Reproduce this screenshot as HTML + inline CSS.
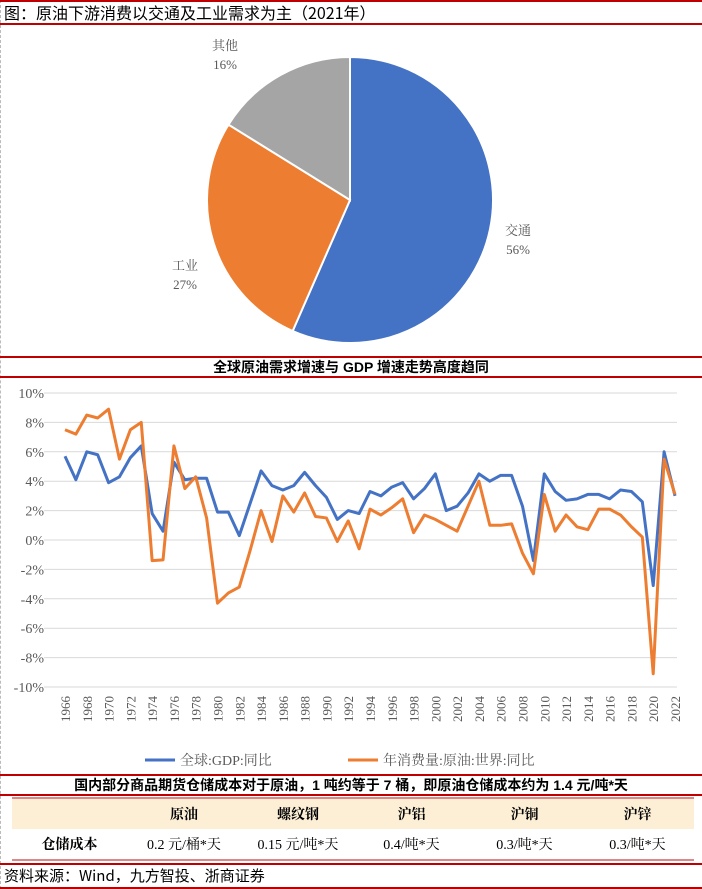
<!DOCTYPE html>
<html><head><meta charset="utf-8"><style>
body{margin:0;width:702px;height:889px;background:#fff;position:relative;overflow:hidden;font-family:"Liberation Serif","Noto Serif CJK SC",serif}
.abs{position:absolute}
.red{position:absolute;left:0;width:702px;height:2px;background:#c00000}
</style></head><body>
<div class="abs" style="left:0;top:0;height:889px;border-left:1px dashed #bbb"></div>
<div class="red" style="top:0"></div>
<div class="abs" style="left:4px;top:2px;font-size:16px;font-family:'Noto Sans CJK SC',sans-serif;line-height:21px">图：原油下游消费以交通及工业需求为主（2021年）</div>
<div class="red" style="top:23px"></div>

<svg class="abs" style="left:0;top:25px" width="702" height="330" id="pie"></svg>

<div class="red" style="top:356px"></div>
<div class="abs" style="left:0;width:702px;top:358px;text-align:center;font-size:14px;font-weight:bold;font-family:'Liberation Sans','Noto Sans CJK SC',sans-serif;line-height:18px">全球原油需求增速与 GDP 增速走势高度趋同</div>
<div class="red" style="top:376px"></div>

<svg class="abs" style="left:0;top:378px" width="702" height="392" id="line"></svg>

<div class="red" style="top:774px"></div>
<div class="abs" style="left:0;width:702px;top:776px;text-align:center;font-size:14px;font-weight:bold;font-family:'Liberation Sans','Noto Sans CJK SC',sans-serif;line-height:18px">国内部分商品期货仓储成本对于原油，1 吨约等于 7 桶，即原油仓储成本约为 1.4 元/吨*天</div>
<div class="red" style="top:794px"></div>
<table class="abs" style="left:12px;top:797px;width:682px;border-collapse:collapse;table-layout:fixed;font-size:14px;font-family:'Liberation Serif','Noto Serif CJK SC',serif">
<colgroup><col style="width:115px"><col style="width:114px"><col style="width:114px"><col style="width:113px"><col style="width:113px"><col style="width:113px"></colgroup>
<tr style="background:#fcefd6;height:31px;font-weight:bold;border-top:2px solid #d88"><td></td><td style="text-align:center">原油</td><td style="text-align:center">螺纹钢</td><td style="text-align:center">沪铝</td><td style="text-align:center">沪铜</td><td style="text-align:center">沪锌</td></tr>
<tr style="height:31px;border-bottom:2px solid #d88"><td style="text-align:center;font-weight:bold">仓储成本</td><td style="text-align:center">0.2 元/桶*天</td><td style="text-align:center">0.15 元/吨*天</td><td style="text-align:center">0.4/吨*天</td><td style="text-align:center">0.3/吨*天</td><td style="text-align:center">0.3/吨*天</td></tr>
</table>
<div class="red" style="top:863px"></div>
<div class="abs" style="left:4px;top:866px;font-size:15px;font-family:'Noto Sans CJK SC',sans-serif;line-height:20px">资料来源：Wind，九方智投、浙商证券</div>
<div class="red" style="top:887px"></div>

<script>
const pieLabels=["交通","工业","其他"];
const pieValues=[56,27,16];
const pieColors=["#4472c4","#ed7d31","#a5a5a5"];
const years=[];for(let y=1966;y<=2022;y++)years.push(y);
const gdp=[5.7,4.1,6.0,5.8,3.9,4.3,5.6,6.4,1.8,0.6,5.3,4.1,4.2,4.2,1.9,1.9,0.3,2.5,4.7,3.7,3.4,3.7,4.6,3.7,2.9,1.4,2.0,1.8,3.3,3.0,3.6,3.9,2.8,3.5,4.5,2.0,2.3,3.2,4.5,4.0,4.4,4.4,2.3,-1.4,4.5,3.3,2.7,2.8,3.1,3.1,2.8,3.4,3.3,2.6,-3.1,6.0,3.0];
const oil=[7.5,7.2,8.5,8.3,8.9,5.5,7.5,8.0,-1.4,-1.35,6.4,3.5,4.3,1.5,-4.3,-3.6,-3.2,-0.7,2.0,-0.1,3.0,1.9,3.2,1.6,1.5,-0.1,1.3,-0.6,2.1,1.7,2.2,2.8,0.5,1.7,1.4,1.0,0.6,2.3,4.0,1.0,1.0,1.1,-0.9,-2.3,3.1,0.6,1.7,0.9,0.7,2.1,2.1,1.7,0.9,0.2,-9.1,5.5,3.1];
const yTicks=[10,8,6,4,2,0,-2,-4,-6,-8,-10];
const NS="http://www.w3.org/2000/svg";
function mk(p,t,a){const e=document.createElementNS(NS,t);for(const k in a)e.setAttribute(k,a[k]);p.appendChild(e);return e;}
(function(){
const svg=document.getElementById('pie');const cx=350,cy=175,r=143;
const tot=pieValues.reduce((a,b)=>a+b,0);let a0=0;
const lp=[[518,210],[185,245],[225,25]];
pieValues.forEach((v,i)=>{
 const a1=a0+v/tot*Math.PI*2;
 const x0=cx+r*Math.sin(a0),y0=cy-r*Math.cos(a0),x1=cx+r*Math.sin(a1),y1=cy-r*Math.cos(a1);
 const p=mk(svg,'path',{d:`M${cx},${cy}L${x0},${y0}A${r},${r} 0 ${a1-a0>Math.PI?1:0} 1 ${x1},${y1}Z`,fill:pieColors[i],stroke:'#fff','stroke-width':2});
 
 
 const t=mk(svg,'text',{x:lp[i][0],y:lp[i][1],'text-anchor':'middle','font-size':13,fill:'#595959','font-family':'Liberation Serif,Noto Serif CJK SC,serif'});
 
 
 t.innerHTML=`<tspan x="${lp[i][0]}">${pieLabels[i]}</tspan><tspan x="${lp[i][0]}" dy="19">${v}%</tspan>`;
 a0=a1;});
})();
(function(){
const svg=document.getElementById('line');
const X0=65,X1=675,Y10=15,Yn10=309;
const xs=i=>X0+(X1-X0)*i/(years.length-1);
const ys=v=>Y10+(10-v)*(Yn10-Y10)/20;
yTicks.forEach(t=>{
 const l=mk(svg,'line',{x1:44,x2:677,y1:ys(t),y2:ys(t),stroke:'#d9d9d9','stroke-width':1});
 
 
 const tx=mk(svg,'text',{x:44,y:ys(t)+5,'text-anchor':'end','font-size':14,fill:'#595959'});
 
 
 tx.textContent=t+'%';});
years.forEach((y,i)=>{if(i%2)return;
 const x=xs(i),yy=318;
 const tx=mk(svg,'text',{x:x+5,y:yy,'text-anchor':'end','font-size':13,fill:'#595959',transform:`rotate(-90 ${x+5} ${yy})`});
 
 
 tx.textContent=y;});
[[gdp,'#4472c4','gdp-line'],[oil,'#ed7d31','oil-line']].forEach(([d,c,n])=>{
 const p=mk(svg,'polyline',{points:d.map((v,i)=>xs(i)+','+ys(v)).join(' '),fill:'none',stroke:c,'stroke-width':3,'stroke-linejoin':'round'});
 
 });
const leg=[[145,'#4472c4','全球:GDP:同比'],[348,'#ed7d31','年消费量:原油:世界:同比']];
leg.forEach(([x,c,t],i)=>{
 const l=mk(svg,'line',{x1:x,x2:x+30,y1:382,y2:382,stroke:c,'stroke-width':3});
 
 
 const tx=mk(svg,'text',{x:x+35,y:387,'font-size':14,fill:'#595959','font-family':'Liberation Serif,Noto Serif CJK SC,serif'});
 
 
 tx.textContent=t;});
})();
</script>
</body></html>
